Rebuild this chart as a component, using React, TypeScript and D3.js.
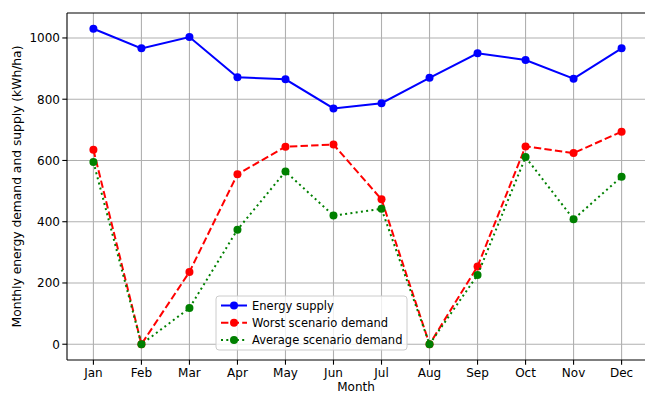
import React from "react";
import * as d3 from "d3";

const months = ["Jan","Feb","Mar","Apr","May","Jun","Jul","Aug","Sep","Oct","Nov","Dec"];
const supply = [1030, 966, 1003, 872, 865, 770, 787, 870, 950, 928, 867, 966];
const worst = [635, 0, 236, 555, 645, 652, 473, 0, 254, 646, 624, 694];
const average = [595, 0, 118, 374, 564, 420, 442, 0, 226, 611, 408, 547];
const yTicks = [0, 200, 400, 600, 800, 1000];

const W = 645, H = 395;
const left = 67, right = 648, top = 13, bottom = 360;
const FONT = "DejaVu Sans, sans-serif";

const series = [
  { name: "Energy supply", values: supply, color: "#0000ff", dash: "" },
  { name: "Worst scenario demand", values: worst, color: "#ff0000", dash: "7.4,3.2" },
  { name: "Average scenario demand", values: average, color: "#008000", dash: "2,3.3" },
];

export default function App() {
  const x = d3.scaleLinear().domain([-0.55, 11.55]).range([left, right]);
  const y = d3.scaleLinear().domain([-51.5, 1081.5]).range([bottom, top]);
  const line = d3.line<number>().x((_, i) => x(i)).y((d) => y(d));

  const lg = { x: 216, y: 296, w: 191, h: 54 };
  return (
    <svg width={W} height={H} style={{ position: "absolute", left: 0, top: 0, fontFamily: FONT }}>
      <rect x={0} y={0} width={W} height={H} fill="#fff" />
      <defs>
        <clipPath id="plot">
          <rect x={left} y={top} width={right - left} height={bottom - top} />
        </clipPath>
      </defs>
      {/* grid */}
      <g stroke="#b0b0b0" strokeWidth={1.1}>
        {months.map((m, i) => (
          <line key={m} x1={x(i)} x2={x(i)} y1={top} y2={bottom} />
        ))}
        {yTicks.map((t) => (
          <line key={t} x1={left} x2={right} y1={y(t)} y2={y(t)} />
        ))}
      </g>
      {/* series */}
      <g clipPath="url(#plot)">
        {series.map((s) => (
          <g key={s.name}>
            <path d={line(s.values) || ""} fill="none" stroke={s.color} strokeWidth={2} strokeDasharray={s.dash || undefined} />
            {s.values.map((v, i) => (
              <circle key={i} cx={x(i)} cy={y(v)} r={4} fill={s.color} />
            ))}
          </g>
        ))}
      </g>
      {/* spines */}
      <g stroke="#000" strokeWidth={1.1} fill="none">
        <line x1={left} x2={left} y1={top} y2={bottom} />
        <line x1={left} x2={right} y1={bottom} y2={bottom} />
        <line x1={left} x2={right} y1={top} y2={top} />
        <line x1={right} x2={right} y1={top} y2={bottom} />
      </g>
      {/* ticks and labels */}
      <g fontSize={12} fill="#000">
        {months.map((m, i) => (
          <g key={m}>
            <line x1={x(i)} x2={x(i)} y1={bottom} y2={bottom + 4.7} stroke="#000" strokeWidth={1.1} />
            <text x={x(i)} y={bottom + 16.5} textAnchor="middle">{m}</text>
          </g>
        ))}
        {yTicks.map((t) => (
          <g key={t}>
            <line x1={left - 4.7} x2={left} y1={y(t)} y2={y(t)} stroke="#000" strokeWidth={1.1} />
            <text x={left - 7} y={y(t) + 4.3} textAnchor="end">{t}</text>
          </g>
        ))}
        <text x={(left + 645) / 2} y={391} textAnchor="middle">Month</text>
        <text transform={`translate(21,${(top + bottom) / 2}) rotate(-90)`} textAnchor="middle" fontSize={12.3}>
          Monthly energy demand and supply (kWh/ha)
        </text>
      </g>
      {/* legend */}
      <g>
        <rect x={lg.x} y={lg.y} width={lg.w} height={lg.h} rx={3} fill="#fff" fillOpacity={0.8} stroke="#cccccc" strokeWidth={1} />
        {series.map((s, i) => {
          const cy = lg.y + 9.5 + i * 17.3;
          return (
            <g key={s.name}>
              <line x1={lg.x + 5} x2={lg.x + 31} y1={cy} y2={cy} stroke={s.color} strokeWidth={2} strokeDasharray={s.dash || undefined} />
              <circle cx={lg.x + 18} cy={cy} r={4} fill={s.color} />
              <text x={lg.x + 36} y={cy + 4.2} fontSize={11.5} fill="#000">{s.name}</text>
            </g>
          );
        })}
      </g>
    </svg>
  );
}
